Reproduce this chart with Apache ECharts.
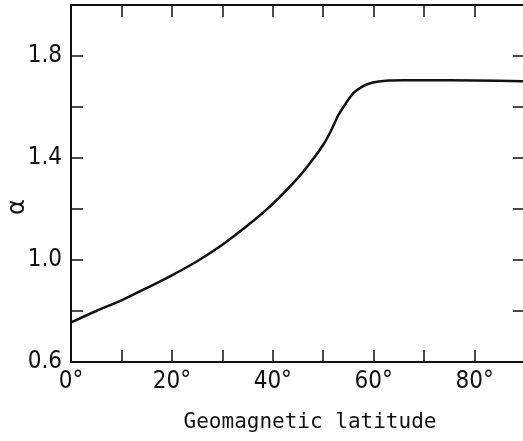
<!DOCTYPE html>
<html>
<head>
<meta charset="utf-8">
<script src="https://cdn.jsdelivr.net/npm/echarts@6/dist/echarts.min.js"></script>
<style>
  html, body { margin: 0; padding: 0; background: #fff; }
  #chart { width: 523px; height: 441px; }
</style>
</head>
<body>
<div id="chart"></div>
<script>
// Spectral index alpha versus geomagnetic latitude
const latitudes = [0, 5, 10, 15, 20, 25, 30, 35, 40, 45, 47.5, 50, 51.5, 53, 54.5, 56, 57.5, 59, 61, 63, 66, 70, 80, 90];
const alphaValues = [0.755, 0.80, 0.842, 0.89, 0.94, 0.995, 1.06, 1.135, 1.22, 1.322, 1.383, 1.452, 1.505, 1.568, 1.615, 1.655, 1.677, 1.691, 1.700, 1.704, 1.705, 1.705, 1.704, 1.701];
const xTickLabels = ['0°', '20°', '40°', '60°', '80°'];
const yTickLabels = ['0.6', '1.0', '1.4', '1.8'];
const yAxisTitle = 'α';

const FONT = '"Liberation Sans Narrow", "DejaVu Sans Condensed", "Liberation Sans", sans-serif';
const INK = '#111';

const chart = echarts.init(document.getElementById('chart'), null, { renderer: 'canvas' });

const xLabelFor = v => {
  const s = Math.round(v) + '°';
  return xTickLabels.includes(s) ? s : '';
};
const yLabelFor = v => {
  const s = v.toFixed(1);
  return yTickLabels.includes(s) ? s : '';
};

// frame lines stay on the grid edges, never on a zero crossing
const frameLine = { show: true, onZero: false, lineStyle: { color: INK, width: 2 } };
const innerTick = { show: true, inside: true, length: 12, lineStyle: { color: INK, width: 1.5 } };

chart.setOption({
  animation: false,
  backgroundColor: '#fff',
  grid: { left: 71, right: -2, top: 5, bottom: 79, containLabel: false, outerBoundsMode: 'none' },
  // rotated y-axis title, placed beside the tick labels
  graphic: [
    {
      type: 'text', x: 18, y: 207, rotation: Math.PI / 2,
      style: {
        text: yAxisTitle, fill: INK, align: 'center', verticalAlign: 'middle',
        font: '24px "DejaVu Sans", sans-serif'
      }
    }
  ],
  xAxis: [
    {
      type: 'value', min: 0, max: 90, interval: 10, position: 'bottom',
      axisLine: frameLine, axisTick: innerTick, splitLine: { show: false },
      axisLabel: {
        formatter: xLabelFor, margin: 8, color: INK,
        fontFamily: FONT, fontSize: 24, showMaxLabel: false
      },
      name: 'Geomagnetic latitude', nameLocation: 'middle', nameGap: 50,
      nameTextStyle: {
        fontFamily: '"DejaVu Sans Mono", monospace', fontSize: 21, color: INK,
        padding: [0, 0, 0, 24]
      }
    },
    {
      type: 'value', min: 0, max: 90, interval: 10, position: 'top',
      axisLine: frameLine, axisTick: innerTick, splitLine: { show: false },
      axisLabel: { show: false }
    }
  ],
  yAxis: [
    {
      type: 'value', min: 0.6, max: 2.0, interval: 0.2, position: 'left',
      axisLine: frameLine, axisTick: innerTick, splitLine: { show: false },
      axisLabel: {
        formatter: yLabelFor, margin: 9, color: INK,
        fontFamily: FONT, fontSize: 24, showMinLabel: true
      }
    },
    {
      type: 'value', min: 0.6, max: 2.0, interval: 0.2, position: 'right',
      axisLine: frameLine, axisTick: innerTick, splitLine: { show: false },
      axisLabel: { show: false }
    }
  ],
  series: [
    {
      type: 'line',
      data: latitudes.map((lat, i) => [lat, alphaValues[i]]),
      smooth: 0.25,
      showSymbol: false,
      lineStyle: { color: INK, width: 2.5 },
      clip: true
    }
  ]
});
</script>
</body>
</html>
